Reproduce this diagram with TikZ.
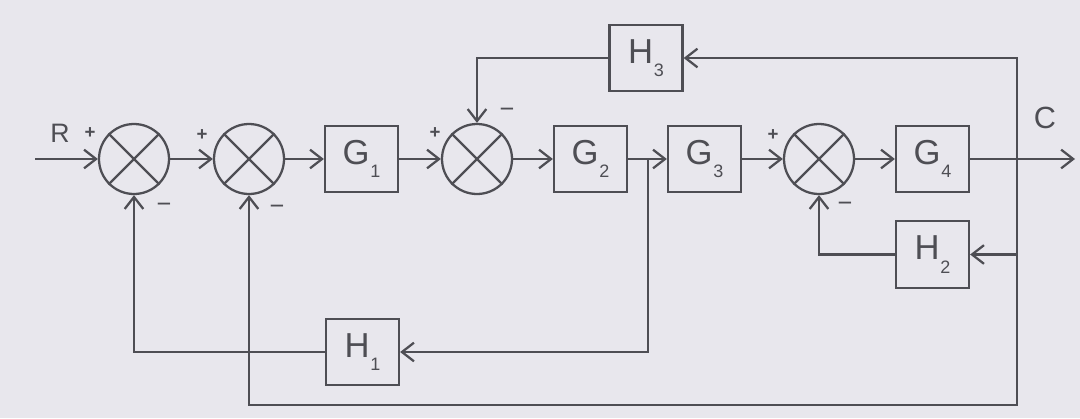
\documentclass[tikz,border=0pt]{standalone}
\usepackage{fontspec}
\setmainfont{Liberation Sans}
\usetikzlibrary{arrows.meta}
\definecolor{bgc}{RGB}{232,231,237}
\definecolor{lnc}{RGB}{78,78,84}
\newcommand\blabel[2]{#1\kern0.5pt\raisebox{-10pt}{\fontsize{13.5}{13.5}\selectfont #2}}
\begin{document}
\begin{tikzpicture}[x=0.75pt,y=-0.75pt, color=lnc, line width=1.7pt,
  blk/.style={draw, rectangle, minimum width=54.75pt, minimum height=50pt, inner sep=0pt, font=\fontsize{26}{26}\selectfont},
  sumn/.style={draw, circle, minimum size=52.5pt, inner sep=0pt},
  arr/.style={-{Straight Barb[length=9pt,width=14pt,line width=1.7pt]}},
  sgn/.style={inner sep=0pt, font=\fontsize{14}{14}\selectfont\bfseries},
  mns/.style={inner sep=0pt, font=\fontsize{19}{19}\selectfont},
  lbl/.style={inner sep=0pt}]
\path[fill=bgc] (0,0) rectangle (1080,418);
\useasboundingbox (0,0) rectangle (1080,418);
% summing junctions
\foreach \n/\x in {s1/134, s2/249, s3/477, s4/819} {
  \node[sumn] (\n) at (\x,159) {};
  \draw (\n.45) -- (\n.225) (\n.135) -- (\n.315);
}
% blocks
\node[blk] (g1) at (361.5,159) {\blabel{G}{1}};
\node[blk] (g2) at (590.5,159) {\blabel{G}{2}};
\node[blk] (g3) at (704.5,159) {\blabel{G}{3}};
\node[blk] (g4) at (932.5,159) {\blabel{G}{4}};
\node[blk] (h1) at (362.5,352) {\blabel{H}{1}};
\node[blk] (h2) at (932.5,254.5) {\blabel{H}{2}};
\node[blk] (h3) at (646,58) {\blabel{H}{3}};
% coordinates
\coordinate (in) at (35,159);
\coordinate (out) at (1075,159);
\coordinate (p1) at (648,159);
\coordinate (c1) at (1017,159);
\coordinate (c2) at (1017,405);
% forward path
\draw[arr] (in) -- (s1.west);
\draw[arr] (s1) -- (s2);
\draw[arr] (s2) -- (g1);
\draw[arr] (g1) -- (s3);
\draw[arr] (s3) -- (g2);
\draw[arr] (g2) -- (g3);
\draw[arr] (g3) -- (s4);
\draw[arr] (s4) -- (g4);
\draw[arr] (g4) -- (out);
% feedback paths
\draw[arr] (p1) |- (h1.east);
\draw[arr] (h1.west) -| (s1.south);
\draw[arr] (c1) |- (h3.east);
\draw[arr] (h3.west) -| (s3.north);
\draw[arr] (c1) |- (h2.east);
\draw[arr] (h2.west) -| (s4.south);
\draw[arr] (c1) -- (c2) -| (s2.south);
% labels
\node[lbl, font=\fontsize{20}{20}\selectfont] (rl) at (60,133) {R};
\node[lbl, font=\fontsize{23}{23}\selectfont] (cl) at (1045,118) {C};
\node[sgn] (ps1) at (90,133) {+};
\node[sgn] (ps2) at (202,135) {+};
\node[sgn] (ps3) at (435,133) {+};
\node[sgn] (ps4) at (773,135) {+};
\node[mns] (ms1) at (164,208) {−};
\node[mns] (ms2) at (277,210) {−};
\node[mns] (ms3) at (507,113) {−};
\node[mns] (ms4) at (845,207) {−};
\end{tikzpicture}
\end{document}
